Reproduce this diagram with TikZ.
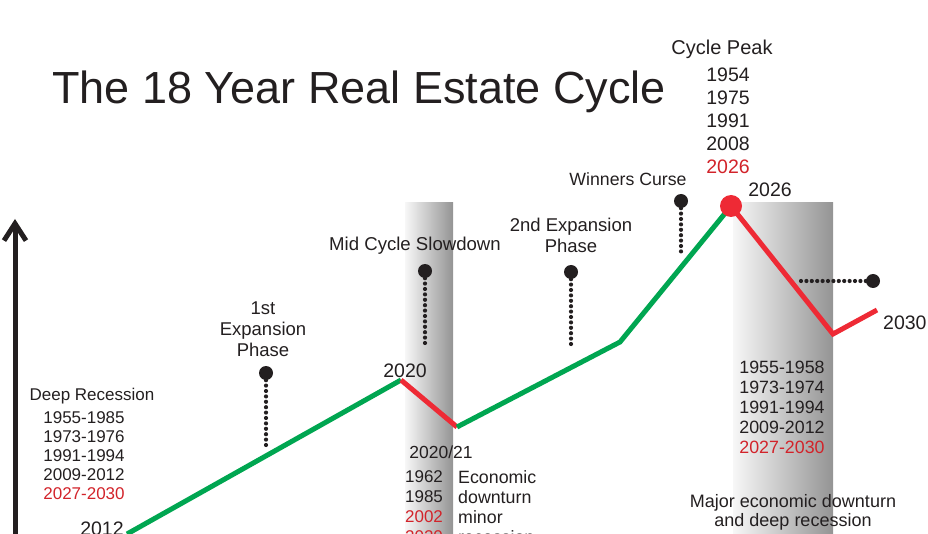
\documentclass[tikz,border=0pt]{standalone}
\usepackage{fontspec}
\setmainfont{Liberation Sans}
\usetikzlibrary{arrows.meta}

\definecolor{ink}{HTML}{231F20}
\definecolor{cyclegreen}{HTML}{00A651}
\definecolor{cyclered}{HTML}{EE2A35}
\definecolor{yearred}{HTML}{D2232A}

\tikzset{
  txt/.style={text=ink, inner sep=0pt, font=\fontsize{17}{20}\selectfont},
  yeartxt/.style={txt, font=\fontsize{19.5}{23}\selectfont},
  phasetxt/.style={txt, align=center, font=\fontsize{18.5}{21}\selectfont},
  trend/.style={line width=5pt},
  marker/.style={circle, fill=ink, inner sep=0pt, minimum size=14pt},
  dotline/.style={ink, line width=4.2pt, line cap=round, dash pattern=on 0pt off 5.4pt},
  bar/.style={left color=black!3, middle color=black!14, right color=black!42}
}

\begin{document}
\begin{tikzpicture}[x=1pt, y=-1pt]

      \useasboundingbox (0,0) rectangle (928,534);
      \clip (0,0) rectangle (928,534);

      % shaded slowdown bars
      \shade[bar] (405,203) rectangle (453,534);
      \shade[bar] (733,203) rectangle (833,534);

      % axis
      \coordinate (axisbot) at (15,534);
      \coordinate (axistop) at (15,219);
      \draw[ink, line width=5pt, -{Straight Barb[length=17pt, width=22pt, line width=5pt]}] (axisbot) -- (axistop);

      % the cycle
      \coordinate (p0) at (127,534);
      \coordinate (p1) at (401,380);
      \coordinate (p2) at (457,427);
      \coordinate (p3) at (620,342);
      \coordinate (p4) at (731,206);
      \coordinate (p5) at (833,334);
      \coordinate (p6) at (877,310);
      \draw[trend, cyclegreen] (p0) -- (p1);
      \draw[trend, cyclered] (p1) -- (p2);
      \draw[trend, cyclegreen] (p2) -- (p3) -- (p4);
      \draw[trend, cyclered] (p4) -- (p5) -- (p6);
      \node[circle, fill=cyclered, inner sep=0pt, minimum size=22pt] (peak) at (p4) {};

      % markers
      \node[marker] (m1) at (266,373) {};
      \coordinate (m1end) at (266,445);
      \draw[dotline] (m1) -- (m1end);
      \node[marker] (m2) at (425,271) {};
      \coordinate (m2end) at (425,343);
      \draw[dotline] (m2) -- (m2end);
      \node[marker] (m3) at (571,272) {};
      \coordinate (m3end) at (571,345);
      \draw[dotline] (m3) -- (m3end);
      \node[marker] (m4) at (681,201) {};
      \coordinate (m4end) at (681,255);
      \draw[dotline] (m4) -- (m4end);
      \node[marker] (m5) at (873,281) {};
      \coordinate (m5end) at (800,281);
      \draw[dotline] (m5) -- (m5end);

      % texts
      \node[txt, anchor=base west, font=\fontsize{45}{54}\selectfont] (title) at (52,104) {The 18 Year Real Estate Cycle};
      \node[txt, anchor=base, font=\fontsize{20}{24}\selectfont] (peaktitle) at (722,55) {Cycle Peak};
      \node[yeartxt, align=center] (peakyears) at (728,121)
        {1954\\1975\\1991\\2008\\\textcolor{yearred}{2026}};
      \node[txt, anchor=base, font=\fontsize{17.7}{21}\selectfont] (curse) at (628,186) {Winners Curse};
      \node[yeartxt, anchor=base] (y2026) at (770,197) {2026};
      \node[phasetxt] (exp2) at (571,235.5) {2nd Expansion\\Phase};
      \node[txt, anchor=base, font=\fontsize{18.6}{21}\selectfont] (midcycle) at (415,251) {Mid Cycle Slowdown};
      \node[phasetxt] (exp1) at (263,329) {1st\\Expansion\\Phase};
      \node[yeartxt, anchor=base] (y2020) at (405,377) {2020};
      \node[txt, anchor=base, font=\fontsize{17.5}{20}\selectfont] (y2021) at (441,458) {2020/21};
      \node[txt, align=center] (minoryears) at (424,507)
        {1962\\1985\\\textcolor{yearred}{2002}\\\textcolor{yearred}{2020}};
      \node[txt, align=left, anchor=west, font=\fontsize{17.8}{20}\selectfont] (minortext) at (458,507)
        {Economic\\downturn\\minor\\recession};
      \node[txt, anchor=base] (deeptitle) at (92,400) {Deep Recession};
      \node[txt, align=center, font=\fontsize{17}{19}\selectfont] (deepyears) at (84,455.5)
        {1955-1985\\1973-1976\\1991-1994\\2009-2012\\\textcolor{yearred}{2027-2030}};
      \node[yeartxt, anchor=base] (y2012) at (102,535) {2012};
      \node[txt, align=center, font=\fontsize{17.8}{20}\selectfont] (majoryears) at (782,407.5)
        {1955-1958\\1973-1974\\1991-1994\\2009-2012\\\textcolor{yearred}{2027-2030}};
      \node[txt, align=center, font=\fontsize{18}{19}\selectfont] (majortext) at (793,512)
        {Major economic downturn\\and deep recession};
      \node[yeartxt, anchor=base west] (y2030) at (883,330) {2030};

    \end{tikzpicture}
\end{document}
